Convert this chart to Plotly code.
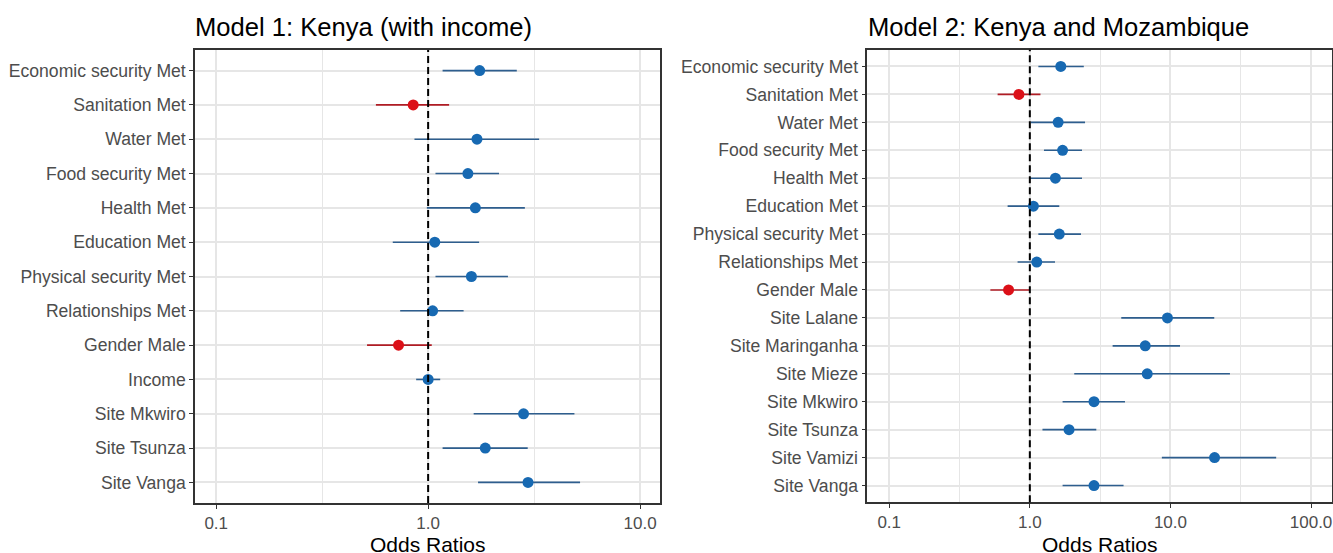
import plotly.graph_objects as go

# ---- Data: Model 1 (Kenya with income) ----
m1_terms = ["Economic security Met", "Sanitation Met", "Water Met", "Food security Met",
            "Health Met", "Education Met", "Physical security Met", "Relationships Met",
            "Gender Male", "Income", "Site Mkwiro", "Site Tsunza", "Site Vanga"]
m1_or = [1.75, 0.85, 1.70, 1.54, 1.67, 1.075, 1.60, 1.05, 0.725, 1.0, 2.82, 1.86, 2.96]
m1_lo = [1.17, 0.567, 0.862, 1.083, 0.986, 0.681, 1.083, 0.738, 0.515, 0.878, 1.64, 1.17, 1.72]
m1_hi = [2.62, 1.256, 3.34, 2.16, 2.86, 1.74, 2.38, 1.47, 1.04, 1.14, 4.90, 2.95, 5.21]

# ---- Data: Model 2 (Kenya and Mozambique) ----
m2_terms = ["Economic security Met", "Sanitation Met", "Water Met", "Food security Met",
            "Health Met", "Education Met", "Physical security Met", "Relationships Met",
            "Gender Male", "Site Lalane", "Site Maringanha", "Site Mieze", "Site Mkwiro",
            "Site Tsunza", "Site Vamizi", "Site Vanga"]
m2_or = [1.66, 0.836, 1.59, 1.71, 1.52, 1.06, 1.62, 1.12, 0.706, 9.52, 6.62, 6.84, 2.86,
         1.90, 20.6, 2.86]
m2_lo = [1.15, 0.59, 1.016, 1.26, 1.0, 0.695, 1.15, 0.818, 0.524, 4.47, 3.88, 2.07, 1.71,
         1.23, 8.69, 1.71]
m2_hi = [2.42, 1.19, 2.47, 2.35, 2.35, 1.62, 2.31, 1.51, 0.995, 20.5, 11.7, 26.5, 4.75,
         2.97, 56.5, 4.64]

m1_ticks = [0.1, 1.0, 10.0]
m1_ticktext = ["0.1", "1.0", "10.0"]
m2_ticks = [0.1, 1.0, 10.0, 100.0]
m2_ticktext = ["0.1", "1.0", "10.0", "100.0"]

W, H = 1333, 553
BLUE_PT, BLUE_LN = "#1769b2", "#2e5e8e"
RED_PT, RED_LN = "#dc1018", "#b01c24"

fig = go.Figure()


def add_model(terms, ors, los, his, xa, ya):
    for neg, pt, ln in [(False, BLUE_PT, BLUE_LN), (True, RED_PT, RED_LN)]:
        idx = [i for i, v in enumerate(ors) if (v < 1) == neg]
        fig.add_trace(go.Scatter(
            x=[ors[i] for i in idx], y=[terms[i] for i in idx],
            mode="markers", xaxis=xa, yaxis=ya, showlegend=False,
            marker=dict(color=pt, size=11, symbol="circle"),
            error_x=dict(type="data", symmetric=False,
                         array=[his[i] - ors[i] for i in idx],
                         arrayminus=[ors[i] - los[i] for i in idx],
                         color=ln, thickness=1.6, width=0),
        ))


add_model(m1_terms, m1_or, m1_lo, m1_hi, "x", "y")
add_model(m2_terms, m2_or, m2_lo, m2_hi, "x2", "y2")


def px_x(p):
    return p / W


def px_y(p):
    return 1 - p / H


font_fam = "Liberation Sans, Arial, sans-serif"
grid = "#e6e6e6"
axis_common = dict(showline=True, linecolor="#333333", linewidth=1.5, mirror=True,
                   ticks="outside", ticklen=4, tickwidth=1.3, tickcolor="#333333",
                   showgrid=True, gridcolor=grid, gridwidth=1.6, zeroline=False)
xfont = dict(family=font_fam, size=17, color="#4d4d4d")
yfont = dict(family=font_fam, size=17.6, color="#4d4d4d")

fig.update_layout(
    width=W, height=H, margin=dict(l=0, r=0, t=0, b=0),
    paper_bgcolor="white", plot_bgcolor="white",
    xaxis=dict(type="log", domain=[px_x(195), px_x(660)], range=[-1.1, 1.094],
               tickvals=m1_ticks, ticktext=m1_ticktext, anchor="y", tickfont=xfont,
               minor=dict(tickvals=[10 ** -0.5, 10 ** 0.5], showgrid=True,
                          gridcolor=grid, gridwidth=1.3, ticks=""),
               **axis_common),
    yaxis=dict(type="category", domain=[px_y(503), px_y(50)],
               categoryorder="array", categoryarray=m1_terms, tickfont=yfont,
               range=[len(m1_terms) - 0.4, -0.6], anchor="x", **axis_common),
    xaxis2=dict(type="log", domain=[px_x(867.3), px_x(1331.7)], range=[-1.156, 2.147],
                tickvals=m2_ticks, ticktext=m2_ticktext, anchor="y2", tickfont=xfont,
                minor=dict(tickvals=[10 ** -0.5, 10 ** 0.5, 10 ** 1.5], showgrid=True,
                           gridcolor=grid, gridwidth=1.3, ticks=""),
                **axis_common),
    yaxis2=dict(type="category", domain=[px_y(502.3), px_y(49.7)],
                categoryorder="array", categoryarray=m2_terms, tickfont=yfont,
                range=[len(m2_terms) - 0.4, -0.6], anchor="x2", **axis_common),
)

for xr, yr in [("x", "y domain"), ("x2", "y2 domain")]:
    fig.add_shape(type="line", xref=xr, yref=yr, x0=1, x1=1, y0=0, y1=1,
                  line=dict(color="black", width=2, dash="7px,4px"), layer="above")

fig.add_annotation(text="Model 1: Kenya (with income)", xref="paper", yref="paper",
                   x=px_x(193), y=px_y(27), xanchor="left", yanchor="middle",
                   showarrow=False, font=dict(family=font_fam, size=25.6, color="black"))
fig.add_annotation(text="Model 2: Kenya and Mozambique", xref="paper", yref="paper",
                   x=px_x(866), y=px_y(27), xanchor="left", yanchor="middle",
                   showarrow=False, font=dict(family=font_fam, size=25.6, color="black"))
for cx in [(195 + 660) / 2, (867.3 + 1331.7) / 2]:
    fig.add_annotation(text="Odds Ratios", xref="paper", yref="paper",
                       x=px_x(cx), y=px_y(531), xanchor="center", yanchor="top",
                       showarrow=False, font=dict(family=font_fam, size=21, color="black"))

fig.write_html("out.html", config={"displayModeBar": False},
               post_script="document.body.style.margin='0px';document.body.style.overflow='hidden';")
